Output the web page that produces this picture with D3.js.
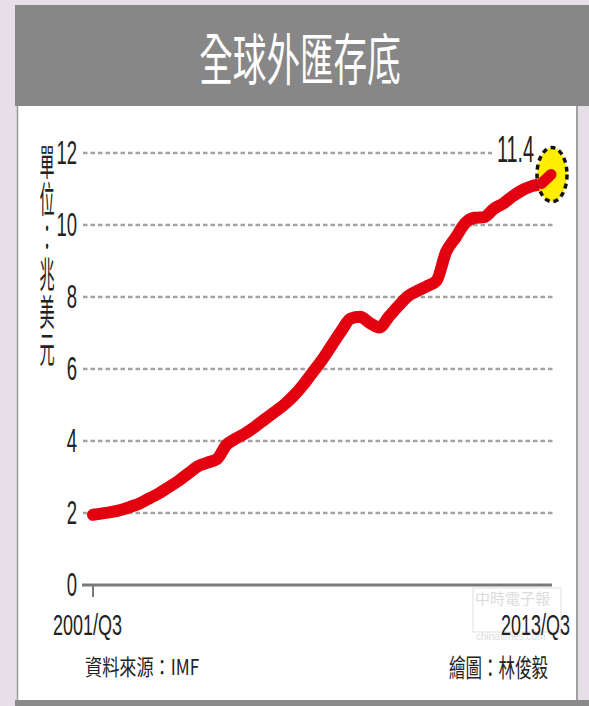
<!DOCTYPE html>
<html>
<head>
<meta charset="utf-8">
<script src="https://cdn.jsdelivr.net/npm/d3@7/dist/d3.min.js"></script>
<style>
  html, body { margin: 0; padding: 0; background: #e7dfe7; }
  svg { display: block; }
</style>
</head>
<body>
<svg id="chart" width="589" height="706"></svg>
<script>
// Global foreign-exchange reserves, quarterly, trillion USD (2001/Q3 – 2013/Q3)
const quarters = d3.range(49); // 0 = 2001/Q3 … 48 = 2013/Q3
const reserves = [
  1.95, 1.99, 2.03, 2.09, 2.18, 2.28, 2.42, 2.56, 2.73, 2.90,
  3.10, 3.30, 3.40, 3.50, 3.90, 4.07, 4.22, 4.40, 4.60, 4.80,
  5.00, 5.25, 5.55, 5.90, 6.25, 6.65, 7.05, 7.40, 7.45, 7.28,
  7.15, 7.45, 7.75, 8.02, 8.17, 8.30, 8.45, 9.25, 9.65, 10.05,
  10.20, 10.22, 10.45, 10.60, 10.80, 10.97, 11.08, 11.15, 11.40
];
const yTicks = [0, 2, 4, 6, 8, 10, 12];
const xLabels = ["2001/Q3", "2013/Q3"];
const title = "全球外匯存底";
const unitLabel = "單位：兆美元";
const sourceText = "資料來源：IMF";
const creditText = "繪圖：林俊毅";
const lastValueLabel = "11.4";

const svg = d3.select("#chart");
const W = 589, H = 706;
const cjk = "'Noto Sans CJK TC', 'Noto Sans CJK SC', sans-serif";
const narrow = "'Liberation Sans Narrow', 'Liberation Sans', Arial, sans-serif";

// condensed text helper
function label(x, y, str, opts) {
  const g = svg.append("g").attr("transform", `translate(${x},${y}) scale(${opts.sx || 1},1)`);
  return g.append("text")
    .attr("text-anchor", opts.anchor || "start")
    .attr("dominant-baseline", opts.baseline || "alphabetic")
    .attr("font-family", opts.family || narrow)
    .attr("font-size", opts.size)
    .attr("font-weight", opts.weight || "normal")
    .attr("fill", opts.fill || "#222")
    .text(str);
}

// page background, title band, white panel
svg.append("rect").attr("width", W).attr("height", H).attr("fill", "#e7dfe7");
svg.append("rect").attr("x", 15).attr("y", 5).attr("width", 574).attr("height", 101).attr("fill", "#878787");
svg.append("rect").attr("x", 17).attr("y", 106).attr("width", 560).attr("height", 594)
  .attr("fill", "#ffffff");
svg.append("line").attr("x1", 17.5).attr("x2", 17.5).attr("y1", 106).attr("y2", 700)
  .attr("stroke", "#9a9a9a").attr("stroke-width", 1.5);
svg.append("line").attr("x1", 577).attr("x2", 577).attr("y1", 106).attr("y2", 700)
  .attr("stroke", "#a0a0a0").attr("stroke-width", 2);
svg.append("rect").attr("x", 15).attr("y", 700).attr("width", 574).attr("height", 6).attr("fill", "#8a8a8a");

label(300, 80, title, { size: 56, sx: 0.6, anchor: "middle", family: cjk, fill: "#ffffff" });

// scales
const x = d3.scaleLinear().domain([0, 48]).range([93, 551]);
const y = d3.scaleLinear().domain([0, 12]).range([585, 153]);

// dashed gridlines
const grid = svg.append("g");
yTicks.filter(d => d > 0).forEach(t => {
  grid.append("line")
    .attr("x1", 83).attr("x2", t === 12 ? 492 : 553)
    .attr("y1", y(t)).attr("y2", y(t))
    .attr("stroke", "#a3a3a3").attr("stroke-width", 2.6)
    .attr("stroke-dasharray", "4.5,3");
});

// y tick labels
yTicks.forEach(t => {
  label(77, y(t) + 11, String(t), { size: 33, sx: 0.56, anchor: "end", fill: "#222" });
});

// x axis baseline with start tick
svg.append("line").attr("x1", 82).attr("x2", 552).attr("y1", y(0)).attr("y2", y(0))
  .attr("stroke", "#7a7a7a").attr("stroke-width", 3);
svg.append("line").attr("x1", x(0)).attr("x2", x(0)).attr("y1", y(0)).attr("y2", y(0) + 12)
  .attr("stroke", "#7a7a7a").attr("stroke-width", 2);

// faint watermark near the end of the axis
const wm = svg.append("g").attr("opacity", 0.3);
wm.append("rect").attr("x", 473).attr("y", 588).attr("width", 88).attr("height", 44)
  .attr("fill", "none").attr("stroke", "#9a9a9a").attr("stroke-width", 1);
wm.append("text").attr("x", 475).attr("y", 604).attr("font-family", cjk).attr("font-size", 15)
  .attr("fill", "#8a8a8a").text("中時電子報");
wm.append("text").attr("x", 476).attr("y", 640).attr("font-family", "'Liberation Sans', sans-serif")
  .attr("font-size", 10).attr("fill", "#8a8a8a").text("chinatimes.com");

// x labels
label(53, 635, xLabels[0], { size: 30, sx: 0.6, anchor: "start" });
label(570, 635, xLabels[1], { size: 30, sx: 0.6, anchor: "end" });

// unit label, written vertically
svg.append("g").attr("transform", "translate(47,144) scale(0.42,1)")
  .append("text")
  .attr("writing-mode", "vertical-rl")
  .style("writing-mode", "vertical-rl")
  .attr("x", 0).attr("y", 0)
  .attr("font-family", cjk)
  .attr("font-size", 36)
  .attr("letter-spacing", 1.5)
  .attr("fill", "#222")
  .text(unitLabel);

// source & credit
label(85, 675, sourceText, { size: 22, sx: 0.78, anchor: "start", family: cjk });
label(548, 677, creditText, { size: 25, sx: 0.66, anchor: "end", family: cjk });

// reserves line
const line = d3.line()
  .x((d, i) => x(quarters[i]))
  .y(d => y(d))
  .curve(d3.curveMonotoneX);
svg.append("path").datum(reserves)
  .attr("d", line)
  .attr("fill", "none")
  .attr("stroke", "#e3000f")
  .attr("stroke-width", 12)
  .attr("stroke-linejoin", "round")
  .attr("stroke-linecap", "round");

// highlight of the latest value
const last = reserves.length - 1;
svg.append("ellipse")
  .attr("cx", x(quarters[last]) + 1).attr("cy", y(reserves[last]))
  .attr("rx", 15).attr("ry", 27)
  .attr("fill", "#ffee00")
  .attr("stroke", "#111").attr("stroke-width", 3.5)
  .attr("stroke-dasharray", "5,4");
// red tip of the line over the marker
svg.append("path").datum(reserves.slice(last - 1))
  .attr("d", d3.line().x((d, i) => x(quarters[last - 1 + i])).y(d => y(d)))
  .attr("fill", "none").attr("stroke", "#e3000f").attr("stroke-width", 11)
  .attr("stroke-linecap", "round");

label(534, 162, lastValueLabel, { size: 36, sx: 0.55, anchor: "end", fill: "#222" });
</script>
</body>
</html>
